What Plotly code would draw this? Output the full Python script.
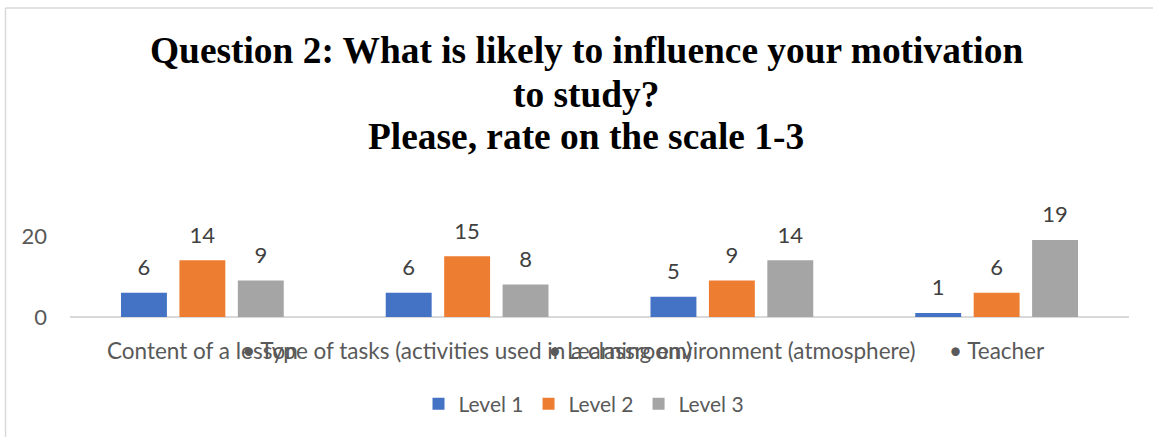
import plotly.graph_objects as go

categories = [
    "Content of a lesson",
    "• Type of tasks (activities used in a classroom)",
    "• Learning environment (atmosphere)",
    "• Teacher",
]
series_names = ["Level 1", "Level 2", "Level 3"]
level1 = [6, 6, 5, 1]
level2 = [14, 15, 9, 6]
level3 = [9, 8, 14, 19]
y_ticks = [0, 20]
title_lines = [
    "Question 2: What is likely to influence your motivation",
    "to study?",
    "Please, rate on the scale 1-3",
]

colors = ["#4472C4", "#ED7D31", "#A5A5A5"]
W, H = 1153, 437
L, R, T, B = 70, 24, 236, 120
plot_h = H - T - B
plot_w = W - L - R

fig = go.Figure()
for i, (name, vals, col) in enumerate(zip(series_names, [level1, level2, level3], colors)):
    fig.add_trace(go.Bar(
        x=categories, y=vals, name=name, offsetgroup=str(i),
        marker=dict(color=col, line=dict(width=0)),
        hoverinfo="x+y+name",
    ))
for i, (name, vals) in enumerate(zip(series_names, [level1, level2, level3])):
    fig.add_trace(go.Scatter(
        x=categories, y=vals, name=name, offsetgroup=str(i),
        mode="markers+text", text=[str(v) for v in vals], textposition="top center",
        marker=dict(size=18, opacity=0), cliponaxis=False,
        textfont=dict(family="Lato", size=22, color="#404040"),
        showlegend=False, hoverinfo="skip",
    ))

def py(ypx):
    return (H - B - ypx) / plot_h

def px(xpx):
    return (xpx - L) / plot_w

annotations = []
for line, yc in zip(title_lines, [50, 94, 136]):
    annotations.append(dict(
        text=f"<b>{line}</b>", xref="paper", yref="paper",
        x=px(586), y=py(yc), xanchor="center", yanchor="middle",
        showarrow=False,
        font=dict(family="Liberation Serif", size=37.4, color="#000000"),
    ))

shapes = [
    dict(type="line", xref="paper", yref="paper", x0=px(5.5), x1=px(5.5), y0=py(440), y1=py(8),
         line=dict(color="#d9d9d9", width=1.5)),
    dict(type="line", xref="paper", yref="paper", x0=px(5.5), x1=px(1160), y0=py(8), y1=py(8),
         line=dict(color="#d9d9d9", width=1.5)),
]

fig.update_layout(
    width=W, height=H,
    margin=dict(l=L, r=R, t=T, b=B, autoexpand=False),
    paper_bgcolor="white", plot_bgcolor="white",
    barmode="group", bargap=0.338, bargroupgap=0.214,
    scattermode="group", scattergap=0.338,
    font=dict(family="Lato", size=21, color="#595959"),
    annotations=annotations, shapes=shapes,
    legend=dict(orientation="h", xref="container", yref="container",
                x=584 / W, y=1 - 404 / H, xanchor="center", yanchor="middle",
                font=dict(family="Lato", size=21, color="#595959"),
                itemclick=False),
    showlegend=True,
)
fig.update_xaxes(tickangle=0, showgrid=False, showline=False, ticks="outside",
                 ticklen=0, ticklabelstandoff=14, automargin=False,
                 tickfont=dict(family="Lato", size=22.5, color="#595959"))
fig.update_yaxes(range=[0, 20], tickvals=y_ticks, showgrid=True, gridcolor="#d9d9d9",
                 gridwidth=1.5, zeroline=True, zerolinecolor="#d9d9d9", zerolinewidth=1.5,
                 showline=False, ticklabelstandoff=22, automargin=False,
                 tickfont=dict(family="Lato", size=22, color="#595959"))

fig.write_html("out.html", config={"displayModeBar": False},
               post_script="document.body.style.margin='0px';")
